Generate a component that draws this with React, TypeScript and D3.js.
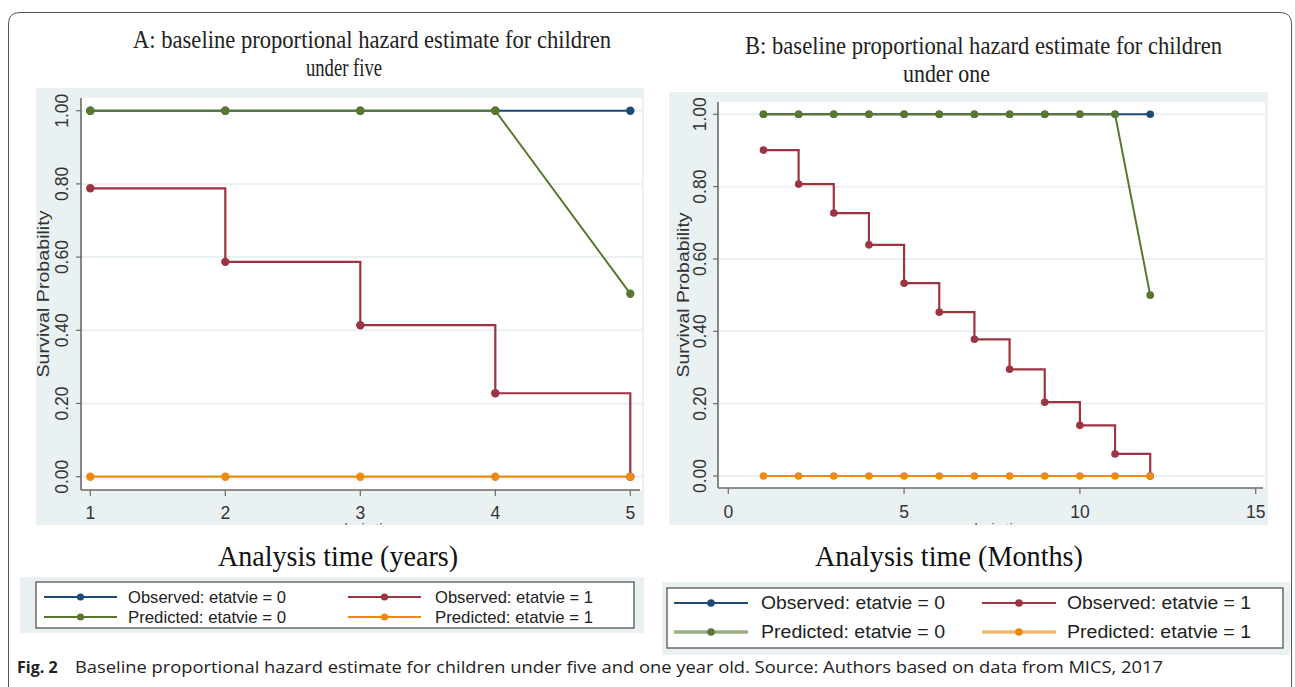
import React from "react";
import * as d3 from "d3";

// ---------- data ----------
const timeA = [1, 2, 3, 4, 5];
const obs0A = [1, 1, 1, 1, 1];
const obs1A = [0.788, 0.587, 0.414, 0.228, 0];
const pred0A = [1, 1, 1, 1, 0.5];
const pred1A = [0, 0, 0, 0, 0];

const timeB = [1, 2, 3, 4, 5, 6, 7, 8, 9, 10, 11, 12];
const obs0B = [1, 1, 1, 1, 1, 1, 1, 1, 1, 1, 1, 1];
const obs1B = [0.901, 0.807, 0.727, 0.639, 0.533, 0.453, 0.378, 0.295, 0.204, 0.14, 0.061, 0];
const pred0B = [1, 1, 1, 1, 1, 1, 1, 1, 1, 1, 1, 0.5];
const pred1B = [0, 0, 0, 0, 0, 0, 0, 0, 0, 0, 0, 0];

const yTicks = [0, 0.2, 0.4, 0.6, 0.8, 1.0];
const xTicksA = [1, 2, 3, 4, 5];
const xTicksB = [0, 5, 10, 15];

const seriesNames = [
  "Observed: etatvie = 0",
  "Observed: etatvie = 1",
  "Predicted: etatvie = 0",
  "Predicted: etatvie = 1",
];

const COLORS = {
  obs0: "#1f4a78",
  obs1: "#9c3441",
  pred0: "#58782f",
  pred1: "#ec8a12",
};

const BG = "#eaf1f3";
const SANS = "'Liberation Sans', Arial, sans-serif";
const SERIF = "'Liberation Serif', 'Times New Roman', serif";

type PanelCfg = {
  bg: [number, number, number, number];
  plot: [number, number, number, number];
  xDomain: [number, number];
  xRange: [number, number];
  yRange: [number, number];
  xTicks: number[];
  time: number[];
  obs0: number[];
  obs1: number[];
  pred0: number[];
  pred1: number[];
  r: number;
  yLabelX: number;
  yTitleX: number;
  xLabelY: number;
  yTitleLen: number;
  title1: string;
  title2: string;
  t1: [number, number, number];
  t2: [number, number, number];
  xTitle: string;
  xt: [number, number, number];
};

function Panel({ c }: { c: PanelCfg }) {
  const x = d3.scaleLinear().domain(c.xDomain).range(c.xRange);
  const y = d3.scaleLinear().domain([0, 1]).range(c.yRange);
  const [px0, py0, px1, py1] = c.plot;
  const mk = (vals: number[]) => c.time.map((t, i) => [t, vals[i]] as [number, number]);
  const lin = d3
    .line<[number, number]>()
    .x((d) => x(d[0]))
    .y((d) => y(d[1]));
  const step = d3
    .line<[number, number]>()
    .x((d) => x(d[0]))
    .y((d) => y(d[1]))
    .curve(d3.curveStepAfter);
  const series = [
    { vals: c.obs0, color: COLORS.obs0, gen: lin, w: 2 },
    { vals: c.obs1, color: COLORS.obs1, gen: step, w: 2.2 },
    { vals: c.pred0, color: COLORS.pred0, gen: lin, w: 2 },
    { vals: c.pred1, color: COLORS.pred1, gen: lin, w: 2.2 },
  ];
  const midX = (px0 + px1) / 2;
  const midY = (py0 + py1) / 2;
  return (
    <g>
      <rect x={c.bg[0]} y={c.bg[1]} width={c.bg[2] - c.bg[0]} height={c.bg[3] - c.bg[1]} fill={BG} />
      <rect x={px0} y={py0} width={px1 - px0} height={py1 - py0} fill="#ffffff" />
      {yTicks.map((t) => (
        <line key={"g" + t} x1={px0} x2={px1} y1={y(t)} y2={y(t)} stroke={BG} strokeWidth={2} />
      ))}
      <line x1={px0} x2={px0} y1={py0} y2={py1} stroke="#6a6a6a" strokeWidth={1.6} />
      <line x1={px0} x2={px1 - 2} y1={py1} y2={py1} stroke="#6a6a6a" strokeWidth={1.6} />
      {yTicks.map((t) => (
        <g key={"yt" + t}>
          <line x1={px0 - 5} x2={px0} y1={y(t)} y2={y(t)} stroke="#6a6a6a" strokeWidth={1.2} />
          <text
            transform={`translate(${c.yLabelX},${y(t)}) rotate(-90)`}
            textAnchor="middle"
            fontFamily={SANS}
            fontSize={17.5}
            fill="#333"
            textLength={34}
            lengthAdjust="spacingAndGlyphs"
          >
            {d3.format(".2f")(t)}
          </text>
        </g>
      ))}
      {c.xTicks.map((t) => (
        <g key={"xt" + t}>
          <line x1={x(t)} x2={x(t)} y1={py1} y2={py1 + 6} stroke="#6a6a6a" strokeWidth={1.2} />
          <text x={x(t)} y={c.xLabelY} textAnchor="middle" fontFamily={SANS} fontSize={17.5} fill="#333">
            {t}
          </text>
        </g>
      ))}
      <text
        transform={`translate(${c.yTitleX},${midY}) rotate(-90)`}
        textAnchor="middle"
        fontFamily={SANS}
        fontSize={16}
        fill="#333"
        textLength={c.yTitleLen}
        lengthAdjust="spacingAndGlyphs"
      >
        Survival Probability
      </text>
      <text x={midX} y={c.bg[3] + 9} textAnchor="middle" fontFamily={SANS} fontSize={14} fill="#555">
        analysis time
      </text>
      <rect x={c.bg[0] - 2} y={c.bg[3]} width={c.bg[2] - c.bg[0] + 4} height={40} fill="#ffffff" />
      {series.map((s, i) => (
        <g key={"s" + i}>
          <path d={s.gen(mk(s.vals)) || ""} fill="none" stroke={s.color} strokeWidth={s.w} />
          {mk(s.vals).map((d, j) => (
            <circle key={j} cx={x(d[0])} cy={y(d[1])} r={c.r} fill={s.color} />
          ))}
        </g>
      ))}
      <text
        x={c.t1[0]}
        y={c.t1[1]}
        fontFamily={SERIF}
        fontSize={25}
        fill="#222"
        textLength={c.t1[2]}
        lengthAdjust="spacingAndGlyphs"
      >
        {c.title1}
      </text>
      <text
        x={c.t2[0]}
        y={c.t2[1]}
        fontFamily={SERIF}
        fontSize={25}
        fill="#222"
        textLength={c.t2[2]}
        lengthAdjust="spacingAndGlyphs"
      >
        {c.title2}
      </text>
      <text
        x={c.xt[0]}
        y={c.xt[1]}
        fontFamily={SERIF}
        fontSize={30}
        fill="#111"
        textLength={c.xt[2]}
        lengthAdjust="spacingAndGlyphs"
      >
        {c.xTitle}
      </text>
    </g>
  );
}

type LegendCfg = {
  bg: [number, number, number, number];
  box: [number, number, number, number];
  rows: [number, number];
  cols: { lx0: number; lx1: number; tx: number }[];
  fs: number;
  tlen: number;
  r: number;
  predW: number;
  predOp: number;
};

function Legend({ c }: { c: LegendCfg }) {
  const order = [
    { name: seriesNames[0], color: COLORS.obs0, col: 0, row: 0, pred: false },
    { name: seriesNames[1], color: COLORS.obs1, col: 1, row: 0, pred: false },
    { name: seriesNames[2], color: COLORS.pred0, col: 0, row: 1, pred: true },
    { name: seriesNames[3], color: COLORS.pred1, col: 1, row: 1, pred: true },
  ];
  return (
    <g>
      <rect x={c.bg[0]} y={c.bg[1]} width={c.bg[2] - c.bg[0]} height={c.bg[3] - c.bg[1]} fill={BG} />
      <rect
        x={c.box[0]}
        y={c.box[1]}
        width={c.box[2] - c.box[0]}
        height={c.box[3] - c.box[1]}
        fill="#ffffff"
        stroke="#555"
        strokeWidth={1.3}
      />
      {order.map((o, i) => {
        const col = c.cols[o.col];
        const yy = c.rows[o.row];
        return (
          <g key={i}>
            <line
              x1={col.lx0}
              x2={col.lx1}
              y1={yy}
              y2={yy}
              stroke={o.color}
              strokeWidth={o.pred ? c.predW : 1.8}
              strokeOpacity={o.pred ? c.predOp : 1}
            />
            <circle cx={(col.lx0 + col.lx1) / 2} cy={yy} r={c.r} fill={o.color} />
            <text
              x={col.tx}
              y={yy + c.fs * 0.36}
              fontFamily={SANS}
              fontSize={c.fs}
              fill="#222"
              textLength={c.tlen}
              lengthAdjust="spacingAndGlyphs"
            >
              {o.name}
            </text>
          </g>
        );
      })}
    </g>
  );
}

const panelA: PanelCfg = {
  bg: [36, 88, 644, 525],
  plot: [81, 98, 642, 490],
  xDomain: [1, 5],
  xRange: [90.3, 630.3],
  yRange: [476.7, 110.7],
  xTicks: xTicksA,
  time: timeA,
  obs0: obs0A,
  obs1: obs1A,
  pred0: pred0A,
  pred1: pred1A,
  r: 4.2,
  yLabelX: 68,
  yTitleX: 49,
  xLabelY: 519,
  yTitleLen: 167,
  title1: "A: baseline proportional hazard estimate for children",
  title2: "under five",
  t1: [133, 48, 478],
  t2: [306, 76, 76],
  xTitle: "Analysis time (years)",
  xt: [218, 566, 240],
};

const panelB: PanelCfg = {
  bg: [669, 92, 1268, 525],
  plot: [718, 102, 1265, 488],
  xDomain: [0, 15],
  xRange: [728.3, 1255.7],
  yRange: [476, 114.3],
  xTicks: xTicksB,
  time: timeB,
  obs0: obs0B,
  obs1: obs1B,
  pred0: pred0B,
  pred1: pred1B,
  r: 3.8,
  yLabelX: 706,
  yTitleX: 689,
  xLabelY: 518,
  yTitleLen: 165,
  title1: "B: baseline proportional hazard estimate for children",
  title2: "under one",
  t1: [745, 54, 477],
  t2: [903, 82, 87],
  xTitle: "Analysis time (Months)",
  xt: [815, 566, 268],
};

const legendA: LegendCfg = {
  bg: [20, 577, 644, 633],
  box: [36, 582, 634, 628],
  rows: [597, 617],
  cols: [
    { lx0: 44, lx1: 117, tx: 128 },
    { lx0: 348, lx1: 421, tx: 435 },
  ],
  fs: 17,
  tlen: 158,
  r: 3.6,
  predW: 1.8,
  predOp: 1,
};

const legendB: LegendCfg = {
  bg: [662, 582, 1290, 655],
  box: [667, 588, 1283, 648],
  rows: [603, 632],
  cols: [
    { lx0: 674, lx1: 748, tx: 761 },
    { lx0: 982, lx1: 1056, tx: 1067 },
  ],
  fs: 18,
  tlen: 184,
  r: 3.8,
  predW: 3.5,
  predOp: 0.6,
};

export default function App() {
  return (
    <svg
      width={1295}
      height={687}
      viewBox="0 0 1295 687"
      style={{ position: "absolute", left: 0, top: 0, display: "block", background: "#fff" }}
    >
      <rect x={0} y={0} width={1295} height={687} fill="#fff" />
      <path
        d="M 8.5 700 L 8.5 24 Q 8.5 12.5 20 12.5 L 1280 12.5 Q 1291.5 12.5 1291.5 24 L 1291.5 700"
        fill="none"
        stroke="#555"
        strokeWidth={1}
      />
      <Panel c={panelA} />
      <Panel c={panelB} />
      <Legend c={legendA} />
      <Legend c={legendB} />
      <text x={17} y={673} fontFamily="'Open Sans', 'Noto Sans', sans-serif" fontSize={16} fontWeight={700} fill="#222">
        Fig. 2
      </text>
      <text
        x={75}
        y={673}
        fontFamily="'Open Sans', 'Noto Sans', sans-serif"
        fontSize={15.5}
        fill="#222"
        textLength={1088}
        lengthAdjust="spacingAndGlyphs"
      >
        Baseline proportional hazard estimate for children under five and one year old.  Source: Authors based on data from MICS, 2017
      </text>
    </svg>
  );
}
